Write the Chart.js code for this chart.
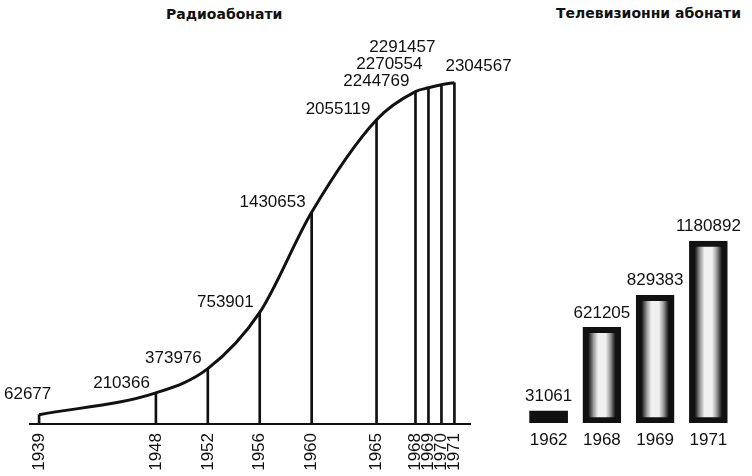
<!DOCTYPE html>
<html>
<head>
<meta charset="utf-8">
<script src="https://cdn.jsdelivr.net/npm/chart.js@4.4.0/dist/chart.umd.min.js"></script>
<style>
  body { margin: 0; width: 752px; height: 476px; overflow: hidden; background: #fff; position: relative; }
  .box { position: absolute; top: 0; height: 476px; }
  #radio-box { left: 0; width: 515px; }
  #tv-box { left: 490px; width: 262px; }
  .title { position: absolute; font: bold 14px "DejaVu Sans", sans-serif; color: #111; white-space: nowrap; }
  #radio-title { left: 166px; top: 6px; }
  #tv-title { left: 556px; top: 5px; }
</style>
</head>
<body>
<div class="title" id="radio-title">Радиоабонати</div>
<div class="title" id="tv-title">Телевизионни абонати</div>
<div class="box" id="tv-box"><canvas id="tv-chart"></canvas></div>
<div class="box" id="radio-box"><canvas id="radio-chart"></canvas></div>
<script>
// --- данни ---
const radioYears = [1939, 1948, 1952, 1956, 1960, 1965, 1968, 1969, 1970, 1971];
const radioSubscribers = [62677, 210366, 373976, 753901, 1430653, 2055119, 2244769, 2270554, 2291457, 2304567];
const tvYears = ['1962', '1968', '1969', '1971'];
const tvSubscribers = [31061, 621205, 829383, 1180892];

const ink = '#111';
const labelFont = '17px "Liberation Sans", sans-serif';

// точки за линейната скала
const radioPoints = radioYears.map((year, i) => ({ x: year, y: radioSubscribers[i] }));

// надписи над точките на линията (горе вляво, без застъпване)
const radioLabels = {
    id: 'radioLabels',
    afterDatasetsDraw(chart) {
        const ctx = chart.ctx;
        const pts = chart.getDatasetMeta(0).data;
        ctx.save();
        ctx.font = labelFont;
        ctx.fillStyle = ink;
        ctx.textAlign = 'left';
        ctx.textBaseline = 'middle';
        let prev = null;
        pts.forEach((p, i) => {
            const text = String(radioSubscribers[i]);
            const w = ctx.measureText(text).width;
            const last = i === pts.length - 1;
            const left = Math.max(4, last ? p.x - 9 : p.x - 6 - w);
            let y = p.y - (last ? 16 : (i === 0 ? 20 : 10));
            if (prev && !last && left < prev.right && y > prev.y - 17) {
                y = prev.y - 17;
            }
            ctx.fillText(text, left, y);
            prev = { right: left + w, y };
        });
        ctx.restore();
    }
};

new Chart(document.getElementById('radio-chart'), {
    type: 'line',
    data: {
        datasets: [
            {
                data: radioPoints,
                borderColor: ink,
                borderWidth: 3,
                pointRadius: 0,
                cubicInterpolationMode: 'monotone',
                fill: false
            },
            {
                type: 'bar',
                data: radioPoints,
                backgroundColor: ink,
                barThickness: 2
            }
        ]
    },
    options: {
        responsive: true,
        maintainAspectRatio: false,
        animation: false,
        layout: { padding: { left: 30, right: 45, top: 39, bottom: 0 } },
        plugins: { legend: { display: false }, tooltip: { enabled: false } },
        scales: {
            x: {
                type: 'linear',
                min: 1938.3,
                max: 1972.2,
                offset: false,
                grid: { display: false, drawTicks: false, tickLength: 0 },
                border: { display: true, color: ink, width: 2 },
                afterBuildTicks: (scale) => { scale.ticks = radioYears.map(v => ({ value: v })); },
                afterFit: (scale) => { scale.height = 52; },
                ticks: {
                    autoSkip: false,
                    minRotation: 90,
                    maxRotation: 90,
                    padding: 9,
                    color: ink,
                    font: { family: '"Liberation Sans", sans-serif', size: 17 },
                    callback: (v) => String(v)
                }
            },
            y: { display: false, min: 0, max: 2600000 }
        }
    },
    plugins: [radioLabels]
});

// запълване на телевизионните стълбове: тъмни краища, светла среда
function tvFill(c) {
    const chart = c.chart;
    if (!chart.chartArea) return '#777';
    if (c.raw < 100000) return ink;
    const x = chart.scales.x.getPixelForValue(c.dataIndex);
    const g = chart.ctx.createLinearGradient(x - 19, 0, x + 19, 0);
    g.addColorStop(0, '#111');
    g.addColorStop(0.16, '#222');
    g.addColorStop(0.28, '#999');
    g.addColorStop(0.4, '#f0f0f0');
    g.addColorStop(0.6, '#f0f0f0');
    g.addColorStop(0.72, '#999');
    g.addColorStop(0.84, '#222');
    g.addColorStop(1, '#111');
    return g;
}

const tvLabels = {
    id: 'tvLabels',
    afterDatasetsDraw(chart) {
        const ctx = chart.ctx;
        const bars = chart.getDatasetMeta(0).data;
        ctx.save();
        ctx.font = labelFont;
        ctx.fillStyle = ink;
        ctx.textAlign = 'center';
        ctx.textBaseline = 'bottom';
        bars.forEach((bar, i) => {
            ctx.fillText(String(tvSubscribers[i]), bar.x, bar.y - 6);
        });
        ctx.restore();
    }
};

new Chart(document.getElementById('tv-chart'), {
    type: 'bar',
    data: {
        labels: tvYears,
        datasets: [{
            data: tvSubscribers,
            backgroundColor: tvFill,
            borderColor: ink,
            borderWidth: (c) => (c.raw < 100000 ? 0 : 6),
            borderSkipped: false,
            barThickness: 38,
            minBarLength: 12
        }]
    },
    options: {
        responsive: true,
        maintainAspectRatio: false,
        animation: false,
        layout: { padding: { left: 32, right: 17, top: 192, bottom: 0 } },
        plugins: { legend: { display: false }, tooltip: { enabled: false } },
        scales: {
            x: {
                grid: { display: false, drawTicks: false, tickLength: 0 },
                border: { display: false },
                afterFit: (scale) => { scale.height = 53; },
                ticks: {
                    padding: 7,
                    color: ink,
                    font: { family: '"Liberation Sans", sans-serif', size: 17 }
                }
            },
            y: { display: false, min: 0, max: 1500000 }
        }
    },
    plugins: [tvLabels]
});
</script>
</body>
</html>
